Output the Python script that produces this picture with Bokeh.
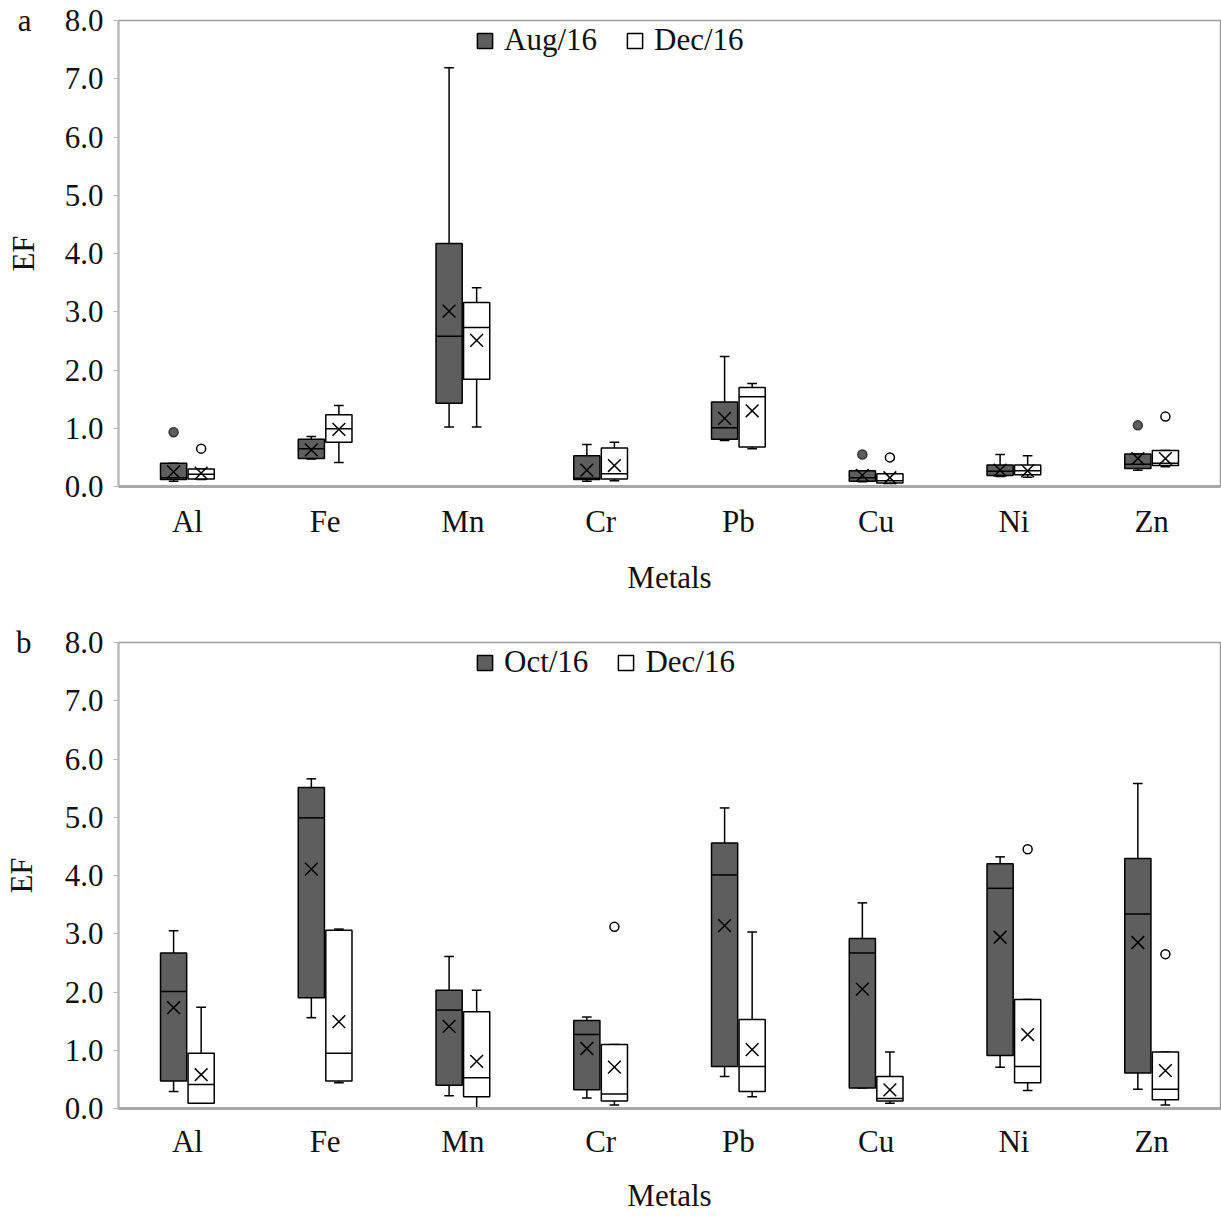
from bokeh.plotting import figure
from bokeh.layouts import column
from bokeh.models import (ColumnDataSource, FactorRange, Range1d, Legend, LegendItem,
                          LinearAxis, NumeralTickFormatter, FixedTicker)
from bokeh.transform import dodge
from bokeh.embed import file_html
from bokeh.resources import INLINE

metals = ["Al", "Fe", "Mn", "Cr", "Pb", "Cu", "Ni", "Zn"]
y_ticks = [0, 1, 2, 3, 4, 5, 6, 7, 8]

# ---- Panel a: Aug/16 vs Dec/16 ----
a_aug_lo   = [0.09, 0.47, 1.02, 0.09, 0.79, 0.08, 0.17, 0.28]
a_aug_q1   = [0.12, 0.48, 1.43, 0.12, 0.81, 0.09, 0.19, 0.31]
a_aug_med  = [0.15, 0.65, 2.58, 0.14, 1.01, 0.15, 0.26, 0.38]
a_aug_q3   = [0.40, 0.81, 4.17, 0.53, 1.45, 0.27, 0.37, 0.56]
a_aug_hi   = [0.40, 0.86, 7.19, 0.72, 2.23, 0.27, 0.55, 0.56]
a_aug_mean = [0.25, 0.63, 3.01, 0.28, 1.17, 0.19, 0.28, 0.48]
a_aug_out_metal = ["Al", "Cu", "Zn"]
a_aug_out_val   = [0.93, 0.55, 1.05]

a_dec_lo   = [0.12, 0.41, 1.02, 0.10, 0.65, 0.05, 0.16, 0.34]
a_dec_q1   = [0.13, 0.76, 1.84, 0.13, 0.68, 0.06, 0.20, 0.36]
a_dec_med  = [0.21, 0.99, 2.73, 0.22, 1.54, 0.10, 0.27, 0.40]
a_dec_q3   = [0.30, 1.23, 3.16, 0.66, 1.70, 0.22, 0.37, 0.62]
a_dec_hi   = [0.30, 1.39, 3.41, 0.76, 1.77, 0.22, 0.53, 0.62]
a_dec_mean = [0.23, 0.98, 2.51, 0.36, 1.30, 0.15, 0.27, 0.48]
a_dec_out_metal = ["Al", "Cu", "Zn"]
a_dec_out_val   = [0.65, 0.50, 1.20]

# ---- Panel b: Oct/16 vs Dec/16 ----
b_oct_lo   = [0.29, 1.56, 0.22, 0.18, 0.55, 0.35, 0.71, 0.33]
b_oct_q1   = [0.47, 1.90, 0.40, 0.32, 0.72, 0.35, 0.91, 0.61]
b_oct_med  = [2.01, 4.99, 1.69, 1.27, 4.01, 2.67, 3.78, 3.34]
b_oct_q3   = [2.67, 5.51, 2.03, 1.51, 4.56, 2.92, 4.20, 4.29]
b_oct_hi   = [3.05, 5.66, 2.61, 1.57, 5.16, 3.53, 4.32, 5.58]
b_oct_mean = [1.73, 4.11, 1.41, 1.03, 3.14, 2.05, 2.94, 2.85]
b_oct_out_metal = []
b_oct_out_val   = []

b_dec_lo   = [0.09, 0.44, 0.01, 0.06, 0.20, 0.09, 0.31, 0.06]
b_dec_q1   = [0.09, 0.47, 0.20, 0.13, 0.29, 0.13, 0.44, 0.15]
b_dec_med  = [0.41, 0.95, 0.53, 0.25, 0.72, 0.17, 0.72, 0.33]
b_dec_q3   = [0.95, 3.06, 1.66, 1.10, 1.53, 0.55, 1.87, 0.97]
b_dec_hi   = [1.74, 3.08, 2.03, 1.10, 3.03, 0.97, 1.87, 0.97]
b_dec_mean = [0.58, 1.49, 0.81, 0.71, 1.01, 0.32, 1.27, 0.65]
b_dec_out_metal = ["Cr", "Ni", "Zn"]
b_dec_out_val   = [3.12, 4.45, 2.65]

SERIF = "Liberation Serif"
DARK = "#5e5e5e"
TXT = "#111111"
FS = "31px"
OFF = 0.1
BW = 0.19
CAP = 0.035


def add_series(p, off, fill, lo, q1, med, q3, hi, mean, out_m, out_v, out_fill):
    src = ColumnDataSource(dict(metal=metals, lo=lo, q1=q1, med=med, q3=q3, hi=hi, mean=mean))
    xc = dodge("metal", off, range=p.x_range)
    xl = dodge("metal", off - BW / 2, range=p.x_range)
    xr = dodge("metal", off + BW / 2, range=p.x_range)
    cl = dodge("metal", off - CAP, range=p.x_range)
    cr = dodge("metal", off + CAP, range=p.x_range)
    # whiskers
    p.segment(x0=xc, y0="q3", x1=xc, y1="hi", source=src, line_color="black", line_width=1.5)
    p.segment(x0=xc, y0="lo", x1=xc, y1="q1", source=src, line_color="black", line_width=1.5)
    p.segment(x0=cl, y0="hi", x1=cr, y1="hi", source=src, line_color="black", line_width=1.5)
    p.segment(x0=cl, y0="lo", x1=cr, y1="lo", source=src, line_color="black", line_width=1.5)
    # boxes
    r = p.vbar(x=xc, top="q3", bottom="q1", width=BW, source=src, fill_color=fill,
               line_color="black", line_width=1.5)
    # medians
    p.segment(x0=xl, y0="med", x1=xr, y1="med", source=src, line_color="black", line_width=1.5)
    # means
    p.scatter(x=xc, y="mean", source=src, marker="x", size=18, line_color="black", line_width=1.5)
    # outliers
    if out_m:
        osrc = ColumnDataSource(dict(metal=out_m, val=out_v))
        p.scatter(x=dodge("metal", off, range=p.x_range), y="val", source=osrc, marker="circle",
                  size=9, fill_color=out_fill, line_color="black" if out_fill == "white" else "#333333",
                  line_width=1.5)
    return r


def make_panel(letter, lab1, lab2, s1, s2, height, bottom, xl_standoff, xt_standoff):
    p = figure(x_range=FactorRange(*metals, range_padding=0), y_range=Range1d(0, 8),
               width=1221, height=height, output_backend="svg", toolbar_location=None,
               min_border_left=117, min_border_right=1, min_border_top=20, min_border_bottom=bottom)
    p.xgrid.grid_line_color = None
    p.ygrid.grid_line_color = None
    p.outline_line_color = "#9c9c9c"
    p.outline_line_width = 1.5
    p.background_fill_color = "white"
    p.border_fill_color = "white"

    r1 = add_series(p, -OFF, DARK, *s1, DARK)
    r2 = add_series(p, OFF, "white", *s2, "white")

    # inner y axis: numeric tick labels
    yax = p.yaxis[0]
    yax.ticker = FixedTicker(ticks=y_ticks)
    yax.formatter = NumeralTickFormatter(format="0.0")
    yax.major_label_text_font = SERIF
    yax.major_label_text_font_size = FS
    yax.major_label_text_color = TXT
    yax.major_label_standoff = 10
    yax.axis_line_color = "#b5b5b5"
    yax.axis_line_width = 2
    yax.major_tick_line_color = "#b5b5b5"
    yax.major_tick_out = 5
    yax.major_tick_in = 0
    yax.minor_tick_line_color = None

    # outer y axis: panel letter + "EF" title
    oax = LinearAxis(ticker=FixedTicker(ticks=[8]), major_label_overrides={8: letter},
                     axis_label="EF", axis_label_text_font=SERIF, axis_label_text_font_size=FS,
                     axis_label_text_font_style="normal", axis_label_text_color=TXT,
                     axis_label_standoff=-26,
                     major_label_text_font=SERIF, major_label_text_font_size=FS,
                     major_label_text_color=TXT, major_label_standoff=30,
                     axis_line_color=None, major_tick_line_color=None, minor_tick_line_color=None,
                     major_tick_out=0, major_tick_in=0)
    p.add_layout(oax, "left")

    xax = p.xaxis[0]
    xax.axis_label = "Metals"
    xax.axis_label_text_font = SERIF
    xax.axis_label_text_font_size = FS
    xax.axis_label_text_font_style = "normal"
    xax.axis_label_text_color = TXT
    xax.axis_label_standoff = xl_standoff
    xax.major_label_text_font = SERIF
    xax.major_label_text_font_size = FS
    xax.major_label_text_color = TXT
    xax.major_label_standoff = xt_standoff
    xax.axis_line_color = "#a8a8a8"
    xax.axis_line_width = 3
    xax.major_tick_line_color = None
    xax.minor_tick_line_color = None

    legend = Legend(items=[LegendItem(label=lab1, renderers=[r1]),
                           LegendItem(label=lab2, renderers=[r2])],
                    orientation="horizontal", location=(357, 428),
                    label_text_font=SERIF, label_text_font_size=FS, label_text_color=TXT,
                    label_height=36, label_text_baseline="middle",
                    glyph_width=19, glyph_height=19, label_standoff=10, spacing=28,
                    padding=0, margin=0, border_line_color=None, background_fill_alpha=0)
    p.add_layout(legend)
    return p


pa = make_panel("a", "Aug/16", "Dec/16",
                (a_aug_lo, a_aug_q1, a_aug_med, a_aug_q3, a_aug_hi, a_aug_mean, a_aug_out_metal, a_aug_out_val),
                (a_dec_lo, a_dec_q1, a_dec_med, a_dec_q3, a_dec_hi, a_dec_mean, a_dec_out_metal, a_dec_out_val),
                622, 136, 18, 11)
pb = make_panel("b", "Oct/16", "Dec/16",
                (b_oct_lo, b_oct_q1, b_oct_med, b_oct_q3, b_oct_hi, b_oct_mean, b_oct_out_metal, b_oct_out_val),
                (b_dec_lo, b_dec_q1, b_dec_med, b_dec_q3, b_dec_hi, b_dec_mean, b_dec_out_metal, b_dec_out_val),
                594, 108, 16, 9)

layout = column(pa, pb, spacing=0)
open("out.html", "w").write(file_html(layout, INLINE))
